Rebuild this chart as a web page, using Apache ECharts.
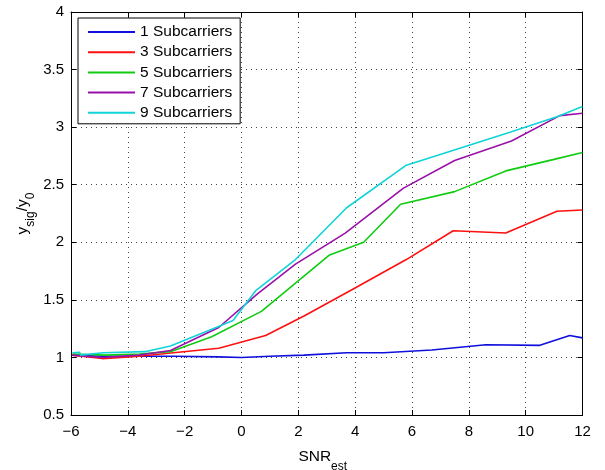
<!DOCTYPE html>
<html>
<head>
<meta charset="utf-8">
<script src="https://cdn.jsdelivr.net/npm/echarts@6/dist/echarts.min.js"></script>
<style>
html,body{margin:0;padding:0;background:#fff;}
#chart{width:605px;height:470px;}
</style>
</head>
<body>
<div id="chart"></div>
<script>
// ---- data ----
const seriesNames = ['1 Subcarriers', '3 Subcarriers', '5 Subcarriers', '7 Subcarriers', '9 Subcarriers'];
const xTicks = [-6, -4, -2, 0, 2, 4, 6, 8, 10, 12];
const yTicks = [0.5, 1, 1.5, 2, 2.5, 3, 3.5, 4];

const sub1 = [[-5.95,1.02],[-4.9,1.01],[-3.5,1.01],[-2.4,1.01],[-0.8,1.005],[0,1.0],[1,1.01],[2.2,1.02],[3.7,1.04],[5.0,1.04],[6.7,1.065],[8.6,1.11],[10.5,1.105],[11.55,1.19],[12,1.17]];
const sub3 = [[-5.95,1.02],[-4.9,0.99],[-3.6,1.01],[-2.4,1.04],[-0.8,1.08],[0.85,1.19],[2.2,1.36],[3.9,1.59],[5.8,1.85],[7.45,2.10],[9.3,2.08],[11.1,2.27],[12,2.28]];
const sub5 = [[-5.95,1.03],[-4.8,1.02],[-3.6,1.03],[-2.5,1.05],[-1.05,1.18],[0.7,1.40],[3.1,1.89],[4.3,2.0],[5.6,2.33],[7.5,2.44],[9.3,2.62],[11.0,2.72],[12,2.78]];
const sub7 = [[-5.95,1.02],[-4.9,1.0],[-3.6,1.02],[-2.5,1.06],[-0.8,1.26],[0.55,1.55],[1.9,1.81],[3.65,2.08],[5.7,2.47],[7.5,2.71],[9.5,2.88],[11.2,3.10],[12,3.12]];
const sub9 = [[-5.95,1.04],[-5.7,1.045],[-5.66,1.02],[-4.87,1.04],[-3.4,1.05],[-2.5,1.10],[-0.7,1.28],[-0.3,1.32],[0.5,1.58],[1.9,1.85],[3.7,2.30],[5.8,2.67],[7.6,2.81],[9.5,2.96],[11.1,3.09],[12,3.18]];
const seriesData = [sub1, sub3, sub5, sub7, sub9];
const seriesColors = ['#1010dd', '#ff1010', '#10cc10', '#9a10a8', '#10d4d8'];

const FONT = 'Liberation Sans, Arial, sans-serif';
const minus = v => String(v).replace('-', '\u2212');
const gridLine = {show: true, lineStyle: {color: '#444', type: [1, 4], width: 1}};
const xNameRich = {
  a: {fontFamily: FONT, fontSize: 15.5, color: '#000', lineHeight: 18},
  b: {fontFamily: FONT, fontSize: 12, color: '#000', lineHeight: 12, padding: [19, 8, 0, 0]}
};
const yNameRich = {
  a: {fontFamily: FONT, fontSize: 15.5, color: '#000', lineHeight: 18},
  b: {fontFamily: FONT, fontSize: 12, color: '#000', lineHeight: 12, padding: [15, 0, 0, 0]}
};

const chart = echarts.init(document.getElementById('chart'));
chart.setOption({
  animation: false,
  backgroundColor: '#fff',
  grid: {left: 71, right: 22.5, top: 12, bottom: 55, containLabel: false, outerBoundsMode: 'none'},
  legend: {
    left: 78, top: 18, orient: 'vertical',
    itemWidth: 47, itemHeight: 2, itemGap: 4.2, icon: 'rect', symbolKeepAspect: false,
    padding: [6, 8, 3, 10],
    borderColor: '#000', borderWidth: 1, backgroundColor: '#fff',
    textStyle: {fontFamily: FONT, fontSize: 15.5, color: '#000', lineHeight: 15},
    data: seriesNames
  },
  xAxis: [{
    type: 'value', min: -6, max: 12, interval: 2, position: 'bottom',
    name: '{a|SNR}{b|est}', nameLocation: 'middle', nameGap: 33, nameMoveOverlap: false,
    nameTextStyle: {rich: xNameRich},
    axisLine: {show: true, onZero: false, lineStyle: {color: '#000', width: 1}},
    axisTick: {show: true, inside: true, length: 5, lineStyle: {color: '#000'}},
    axisLabel: {fontFamily: FONT, fontSize: 15, color: '#000', margin: 9, formatter: minus},
    splitLine: gridLine
  }, {
    type: 'value', min: -6, max: 12, interval: 2, position: 'top',
    axisLine: {show: true, onZero: false, lineStyle: {color: '#000', width: 1}},
    axisTick: {show: true, inside: true, length: 5, lineStyle: {color: '#000'}},
    axisLabel: {show: false}, splitLine: {show: false}
  }],
  yAxis: [{
    type: 'value', min: 0.5, max: 4, interval: 0.5, position: 'left',
    name: '{a|y}{b|sig}{a|/y}{b|0}', nameLocation: 'middle', nameGap: 39, nameMoveOverlap: false,
    nameTextStyle: {rich: yNameRich},
    axisLine: {show: true, onZero: false, lineStyle: {color: '#000', width: 1}},
    axisTick: {show: true, inside: true, length: 5, lineStyle: {color: '#000'}},
    axisLabel: {fontFamily: FONT, fontSize: 15, color: '#000', margin: 7, formatter: v => String(v)},
    splitLine: gridLine
  }, {
    type: 'value', min: 0.5, max: 4, interval: 0.5, position: 'right',
    axisLine: {show: true, onZero: false, lineStyle: {color: '#000', width: 1}},
    axisTick: {show: true, inside: true, length: 5, lineStyle: {color: '#000'}},
    axisLabel: {show: false}, splitLine: {show: false}
  }],
  series: seriesNames.map((n, i) => ({
    name: n, type: 'line', xAxisIndex: 0, yAxisIndex: 0,
    data: seriesData[i], symbol: 'none', showSymbol: false,
    lineStyle: {color: seriesColors[i], width: 1.6},
    itemStyle: {color: seriesColors[i]}
  }))
});
</script>
</body>
</html>
